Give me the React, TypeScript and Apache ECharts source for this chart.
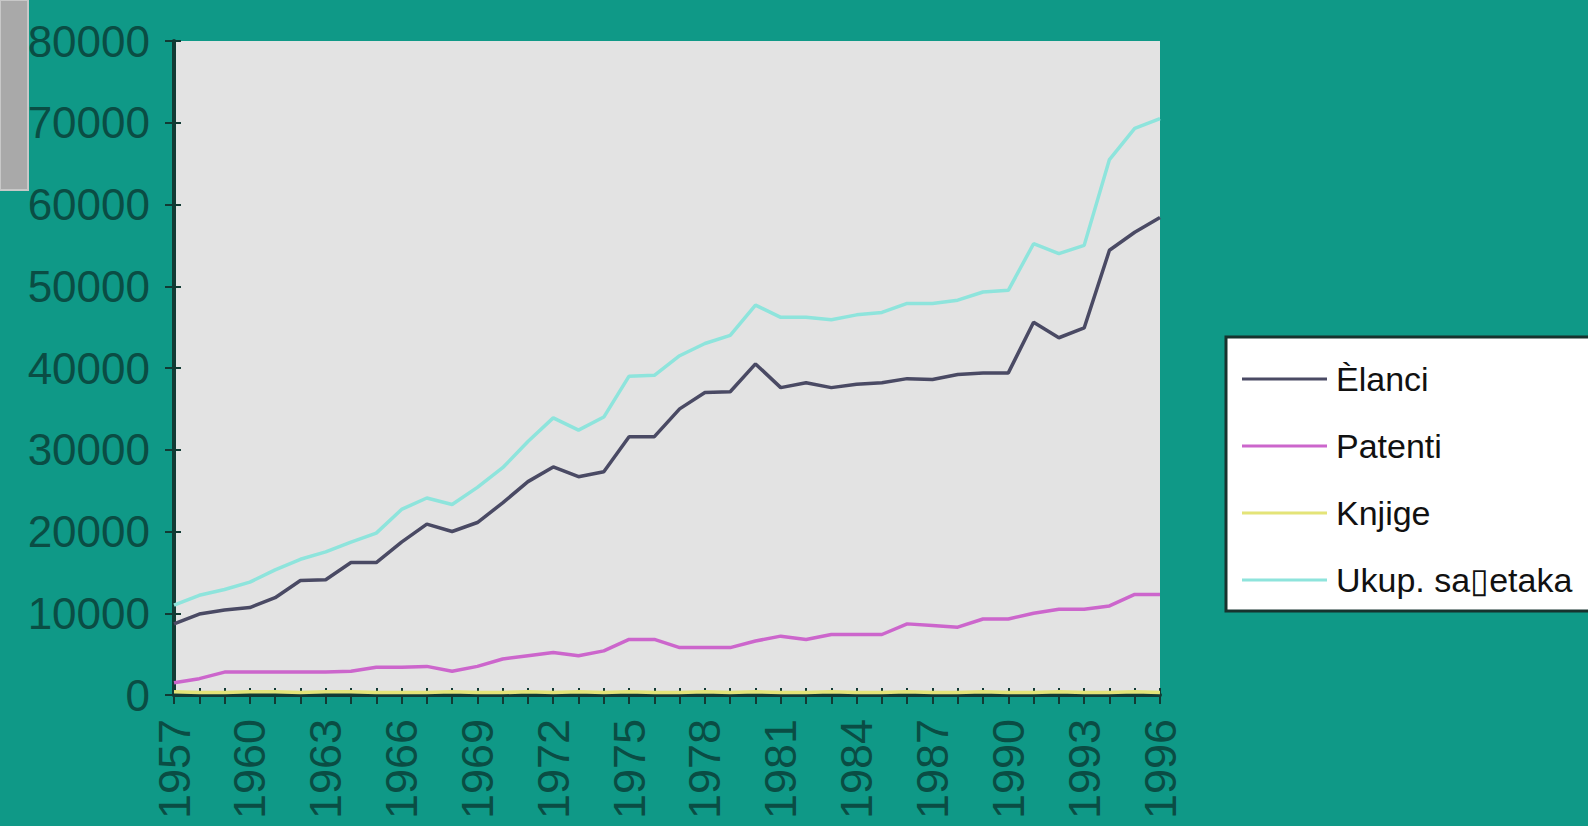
import React, { useEffect, useRef } from "react";
import * as echarts from "echarts";

const years = [
  "1957", "1958", "1959", "1960", "1961", "1962", "1963", "1964", "1965", "1966",
  "1967", "1968", "1969", "1970", "1971", "1972", "1973", "1974", "1975", "1976",
  "1977", "1978", "1979", "1980", "1981", "1982", "1983", "1984", "1985", "1986",
  "1987", "1988", "1989", "1990", "1991", "1992", "1993", "1994", "1995", "1996",
];

const clanci = [
  8700, 9900, 10400, 10700, 11900, 14000, 14100, 16200, 16200, 18700,
  20900, 20000, 21100, 23500, 26100, 27900, 26700, 27300, 31600, 31600,
  35000, 37000, 37100, 40500, 37600, 38200, 37600, 38000, 38200, 38700,
  38600, 39200, 39400, 39400, 45600, 43700, 44900, 54400, 56600, 58400,
];

const patenti = [
  1500, 2000, 2800, 2800, 2800, 2800, 2800, 2900, 3400, 3400,
  3500, 2900, 3500, 4400, 4800, 5200, 4800, 5400, 6800, 6800,
  5800, 5800, 5800, 6600, 7200, 6800, 7400, 7400, 7400, 8700,
  8500, 8300, 9300, 9300, 10000, 10500, 10500, 10900, 12300, 12300,
];

const knjige = [
  400, 300, 300, 400, 400, 300, 400, 400, 300, 300,
  300, 400, 300, 300, 400, 300, 400, 300, 400, 300,
  300, 400, 300, 400, 300, 300, 400, 300, 300, 400,
  300, 300, 400, 300, 300, 400, 300, 300, 400, 300,
];

const ukupno = [
  11000, 12200, 12900, 13800, 15300, 16600, 17500, 18700, 19800, 22700,
  24100, 23300, 25400, 27800, 31000, 33900, 32400, 34000, 39000, 39100,
  41500, 43000, 44000, 47700, 46200, 46200, 45900, 46500, 46800, 47900,
  47900, 48300, 49300, 49500, 55200, 54000, 55000, 65500, 69300, 70500,
];

const seriesNames = ["Èlanci", "Patenti", "Knjige", "Ukup. sa▯etaka"];
const seriesColors = ["#4a4a64", "#cc66cc", "#e4e478", "#8ee4dc"];

const labelColor = "#0a4d44";
const axisColor = "#123a34";
const tickFont = "'Liberation Sans', Arial, sans-serif";

export default function App() {
  const ref = useRef<HTMLDivElement>(null);
  useEffect(() => {
    if (!ref.current) return;
    const chart = echarts.init(ref.current, null, { renderer: "svg" });
    const dataSets = [clanci, patenti, knjige, ukupno];
    chart.setOption({
      animation: false,
      backgroundColor: "#0f9987",
      grid: {
        left: 174,
        right: 428,
        top: 41,
        bottom: 131,
        show: true,
        backgroundColor: "#e3e3e3",
        borderWidth: 0,
      },
      legend: {
        orient: "vertical",
        left: 1237,
        top: 357,
        icon: "rect",
        itemWidth: 85,
        itemHeight: 3,
        itemGap: 33,
        z: 10,
        data: seriesNames,
        textStyle: {
          fontFamily: tickFont,
          fontSize: 34,
          lineHeight: 34,
          color: "#111111",
          padding: [0, 0, 0, 4],
        },
      },
      graphic: [
        {
          type: "rect",
          z: -1,
          shape: { x: 0, y: 0, width: 28, height: 190 },
          style: { fill: "#a9a9a9", stroke: "#c8c8c8", lineWidth: 2 },
        },
        {
          type: "rect",
          z: 1,
          shape: { x: 1226, y: 337, width: 400, height: 274 },
          style: { fill: "#ffffff", stroke: "#17332e", lineWidth: 3 },
        },
      ],
      xAxis: [
        {
          type: "category",
          data: years,
          boundaryGap: false,
          position: "bottom",
          axisLine: { show: true, lineStyle: { color: axisColor, width: 4 } },
          axisTick: {
            show: true,
            interval: 0,
            length: 9,
            lineStyle: { color: axisColor, width: 2 },
          },
          axisLabel: {
            interval: 2,
            rotate: 90,
            margin: 24,
            color: labelColor,
            fontSize: 45,
            fontFamily: tickFont,
          },
          splitLine: { show: false },
        },
        {
          type: "category",
          data: years,
          boundaryGap: false,
          position: "bottom",
          axisLine: { show: false },
          axisTick: {
            show: true,
            inside: true,
            interval: 0,
            length: 7,
            lineStyle: { color: axisColor, width: 2 },
          },
          axisLabel: { show: false },
          splitLine: { show: false },
        },
      ],
      yAxis: [
        {
          type: "value",
          min: 0,
          max: 80000,
          interval: 10000,
          position: "left",
          axisLine: { show: true, lineStyle: { color: axisColor, width: 4 } },
          axisTick: { show: true, length: 9, lineStyle: { color: axisColor, width: 2 } },
          axisLabel: {
            margin: 24,
            color: labelColor,
            fontSize: 44,
            fontFamily: tickFont,
            formatter: (v: number) => String(v),
          },
          splitLine: { show: false },
        },
        {
          type: "value",
          min: 0,
          max: 80000,
          interval: 10000,
          position: "left",
          axisLine: { show: false },
          axisTick: { show: true, inside: true, length: 7, lineStyle: { color: axisColor, width: 2 } },
          axisLabel: { show: false },
          splitLine: { show: false },
        },
      ],
      series: seriesNames.map((name, i) => ({
        name,
        type: "line",
        data: dataSets[i],
        xAxisIndex: 0,
        yAxisIndex: 0,
        showSymbol: false,
        symbol: "none",
        z: i === 0 ? 5 : 3,
        lineStyle: { color: seriesColors[i], width: 3.5 },
        itemStyle: { color: seriesColors[i] },
      })),
    });
    return () => chart.dispose();
  }, []);
  return (
    <div
      ref={ref}
      style={{ position: "fixed", left: 0, top: 0, width: 1588, height: 826 }}
    />
  );
}
